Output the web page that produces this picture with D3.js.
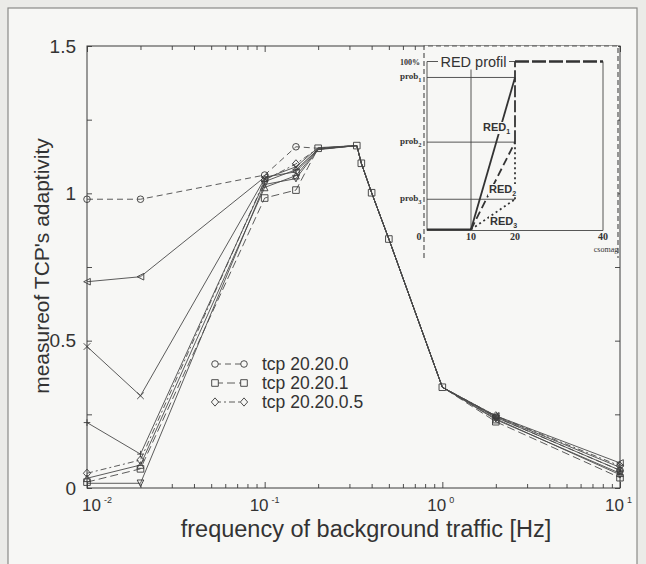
<!DOCTYPE html>
<html>
<head>
<meta charset="utf-8">
<script src="https://cdn.jsdelivr.net/npm/d3@7"></script>
<style>
  html, body { margin: 0; padding: 0; background: #ebebe8; }
  svg { display: block; }
  text { fill: #333; }
</style>
</head>
<body>
<svg id="chart" width="646" height="564"></svg>
<script>
// ---- data -------------------------------------------------------------
const freqs = [0.01, 0.02, 0.1, 0.15, 0.2, 0.33, 0.35, 0.4, 0.5, 1, 2, 10];

const tcp_20_20_0   = [0.980, 0.980, 1.062, 1.158, 1.153, 1.162, 1.102, 1.002, 0.845, 0.342, 0.240, 0.060];
const tcp_20_20_1   = [0.020, 0.065, 0.984, 1.011, 1.153, 1.162, 1.102, 1.002, 0.845, 0.342, 0.225, 0.035];
const tcp_20_20_0_5 = [0.050, 0.095, 1.045, 1.100, 1.153, 1.162, 1.102, 1.002, 0.845, 0.342, 0.245, 0.075];
const run4          = [0.700, 0.717, 1.055, 1.073, 1.150, 1.162, 1.102, 1.002, 0.845, 0.342, 0.245, 0.085];
const run5          = [0.480, 0.313, 1.050, 1.090, 1.155, 1.162, 1.102, 1.002, 0.845, 0.342, 0.243, 0.070];
const run6          = [0.222, 0.115, 1.040, 1.080, 1.150, 1.162, 1.102, 1.002, 0.845, 0.342, 0.240, 0.060];
const run7          = [0.016, 0.016, 1.030, 1.050, 1.148, 1.162, 1.102, 1.002, 0.845, 0.342, 0.235, 0.045];
const run8          = [0.033, 0.078, 1.020, 1.060, 1.150, 1.162, 1.102, 1.002, 0.845, 0.342, 0.232, 0.050];

const legendNames = ["tcp 20.20.0", "tcp 20.20.1", "tcp 20.20.0.5"];

const xTickExponents = [-2, -1, 0, 1];
const yTickValues = [0, 0.25, 0.5, 0.75, 1, 1.25, 1.5];
const yTickLabels = ["0", "0.5", "1", "1.5"];

const xLabel = "frequency of background traffic [Hz]";
const yLabel = "measureof TCP's adaptivity";

// RED drop-probability profile (inset)
const redMinTh = 10, redMaxTh = 20, redQueueMax = 40;
const redMaxProb = [0.905, 0.52, 0.18];
const redNames = ["1", "2", "3"];
const insetXTicks = [0, 10, 20, 40];
const insetTitle = "RED profil";
const insetXLabel = "csomag";

// ---- setup ------------------------------------------------------------
const svg = d3.select("#chart");
const W = 646, H = 564;
const ink = "#3a3a3a";
const FONT = "'Liberation Sans', Arial, sans-serif";
const SERIF = "'Liberation Serif', 'DejaVu Serif', serif";
const paper = "#f7f7f5";

// page: a framed figure on a scanned sheet
svg.append("rect").attr("width", W).attr("height", H).attr("fill", "#ebebe8");
svg.append("rect").attr("x", 8).attr("y", 8).attr("width", 629).attr("height", H)
  .attr("fill", paper).attr("stroke", "#8a8a88").attr("stroke-width", 1.2);

const x = d3.scaleLog().domain([0.01, 10]).range([87, 620]);
const y = d3.scaleLinear().domain([0, 1.5]).range([488, 46]);

// ---- axes box & ticks -------------------------------------------------
const gAxes = svg.append("g");
gAxes.append("rect")
  .attr("x", x.range()[0]).attr("y", y.range()[1])
  .attr("width", x.range()[1] - x.range()[0])
  .attr("height", y.range()[0] - y.range()[1])
  .attr("fill", paper).attr("stroke", ink).attr("stroke-width", 1);

const majorX = xTickExponents.map(e => Math.pow(10, e));
const minorX = x.ticks().filter(v => !majorX.some(m => Math.abs(m - v) < 1e-9));

function styleTicks(g) {
  g.select(".domain").remove();
  g.selectAll("line").attr("stroke", ink).attr("stroke-width", 0.9);
  g.selectAll("text").remove();
}
[[majorX, 6], [minorX, 4]].forEach(([vals, len]) => {
  gAxes.append("g").attr("transform", `translate(0,${y(0)})`)
    .call(d3.axisBottom(x).tickValues(vals).tickSize(-len)).call(styleTicks);
  gAxes.append("g").attr("transform", `translate(0,${y(1.5)})`)
    .call(d3.axisTop(x).tickValues(vals).tickSize(-len)).call(styleTicks);
});
gAxes.append("g").attr("transform", `translate(${x(0.01)},0)`)
  .call(d3.axisLeft(y).tickValues(yTickValues).tickSize(-5)).call(styleTicks);
gAxes.append("g").attr("transform", `translate(${x(10)},0)`)
  .call(d3.axisRight(y).tickValues(yTickValues).tickSize(-5)).call(styleTicks);

// tick labels
yTickLabels.forEach(t => {
  svg.append("text").attr("x", 76).attr("y", y(+t))
    .attr("text-anchor", "end").attr("dominant-baseline", "central")
    .attr("font-family", FONT).attr("font-size", 19).text(t);
});
xTickExponents.forEach((e, i) => {
  const px = x(Math.pow(10, e)) + (i === 0 ? -5 : -15);
  const t = svg.append("text").attr("x", px).attr("y", 511)
    .attr("font-family", FONT).attr("font-size", 17);
  t.append("tspan").text("10");
  t.append("tspan").attr("dx", 3).attr("dy", -8).attr("font-size", 9).text(e);
});

// axis titles
svg.append("text").attr("x", 366).attr("y", 537).attr("text-anchor", "middle")
  .attr("font-family", FONT).attr("font-size", 23.5).text(xLabel);
svg.append("text").attr("transform", "translate(41,266) rotate(-90)")
  .attr("text-anchor", "middle").attr("dominant-baseline", "central")
  .attr("font-family", FONT).attr("font-size", 21).text(yLabel);

// ---- series ------------------------------------------------------------
// drawn bottom to top; tcp 20.20.1 (squares) ends up on top
const series = [
  { v: run8,          m: "^", dash: null },
  { v: run7,          m: "v", dash: null },
  { v: run6,          m: "+", dash: null },
  { v: run5,          m: "x", dash: null },
  { v: run4,          m: "<", dash: null },
  { v: tcp_20_20_0_5, m: "d", dash: "6,3,2,3", legend: 2 },
  { v: tcp_20_20_0,   m: "o", dash: "6,4", legend: 0 },
  { v: tcp_20_20_1,   m: "s", dash: "8,4", legend: 1 }
];
const topSeries = series[series.length - 1];

const lineGen = d3.line().x(d => x(d[0])).y(d => y(d[1]));

function markerPath(type, r) {
  switch (type) {
    case "o": return d3.symbol(d3.symbolCircle, Math.PI * r * r)();
    case "s": return `M${-r},${-r}H${r}V${r}H${-r}Z`;
    case "d": return `M0,${-r * 1.25}L${r * 1.1},0L0,${r * 1.25}L${-r * 1.1},0Z`;
    case "<": return `M${-r},0L${r},${-r}L${r},${r}Z`;
    case "^": return `M0,${-r}L${r},${r}L${-r},${r}Z`;
    case "v": return `M0,${r}L${r},${-r}L${-r},${-r}Z`;
    case "x": return `M${-r},${-r}L${r},${r}M${r},${-r}L${-r},${r}`;
    case "+": return `M${-r},0H${r}M0,${-r}V${r}`;
  }
}

const gSeries = svg.append("g");
series.forEach(s => {
  const pts = freqs.map((f, i) => [f, s.v[i], i]);
  gSeries.append("path").datum(pts).attr("d", lineGen)
    .attr("fill", "none").attr("stroke", "#4a4a4a").attr("stroke-width", 0.9)
    .attr("stroke-dasharray", s.dash);
  // markers sitting exactly under a square of the top series are hidden by it
  const visible = pts.filter(d => s === topSeries ||
    Math.abs(y(d[1]) - y(topSeries.v[d[2]])) > 1.5);
  gSeries.selectAll(null).data(visible).enter().append("path")
    .attr("transform", d => `translate(${x(d[0])},${y(d[1])})`)
    .attr("d", markerPath(s.m, 3.3))
    .attr("fill", "none").attr("stroke", "#3a3a3a").attr("stroke-width", 0.9);
});

// ---- legend ------------------------------------------------------------
const legendRows = [364, 383, 402];
legendNames.forEach((name, i) => {
  const s = series.find(d => d.legend === i), ly = legendRows[i];
  svg.append("line").attr("x1", 215).attr("x2", 244).attr("y1", ly).attr("y2", ly)
    .attr("stroke", "#4a4a4a").attr("stroke-width", 0.9).attr("stroke-dasharray", s.dash);
  [215, 244].forEach(mx => {
    svg.append("path").attr("transform", `translate(${mx},${ly})`)
      .attr("d", markerPath(s.m, 3.3)).attr("fill", paper)
      .attr("stroke", "#3a3a3a").attr("stroke-width", 0.9);
  });
  svg.append("text").attr("x", 262).attr("y", ly).attr("dominant-baseline", "central")
    .attr("font-family", FONT).attr("font-size", 17.5).text(name);
});

// ---- inset: RED profile -----------------------------------------------
const ix = d3.scaleLinear().domain([0, redQueueMax]).range([427, 603]);
const iy = d3.scaleLinear().domain([0, 1]).range([229.5, 61.5]);
const gi = svg.append("g");

gi.append("rect").attr("x", 424).attr("y", 46).attr("width", 194).attr("height", 212)
  .attr("fill", paper);
// dashed frame around the inset
gi.append("path").attr("d", "M424,258V46H618V258")
  .attr("fill", "none").attr("stroke", "#555").attr("stroke-width", 1.2)
  .attr("stroke-dasharray", "5,3");

const thin = { stroke: "#444", "stroke-width": 0.9 };
function seg(x1, y1, x2, y2, attrs) {
  const l = gi.append("line").attr("x1", x1).attr("y1", y1).attr("x2", x2).attr("y2", y2);
  Object.entries(attrs).forEach(([k, v]) => l.attr(k, v));
  return l;
}
// inset axes and guide lines
seg(ix(0), iy(1), ix(0), iy(0) + 1, thin);
seg(ix(0), iy(0) + 1, ix(redQueueMax), iy(0) + 1, thin);
seg(ix(redQueueMax), iy(1), ix(redQueueMax), iy(0) + 1, thin);
seg(ix(redMinTh), iy(1), ix(redMinTh), iy(0), thin);
redMaxProb.forEach(p => seg(ix(0), iy(p), ix(redMaxTh), iy(p), thin));
seg(ix(0), iy(1), ix(redMaxTh), iy(1), thin);
gi.append("rect").attr("x", 438).attr("y", iy(1) - 8).attr("width", 71).attr("height", 16)
  .attr("fill", paper);
gi.append("text").attr("x", 473.5).attr("y", iy(1)).attr("text-anchor", "middle")
  .attr("dominant-baseline", "central").attr("font-family", FONT)
  .attr("font-size", 14.5).text(insetTitle);

// drop-probability curves: shared floor, individual ramps, jump to 100%
const heavy = { stroke: "#333", "stroke-width": 1.8, fill: "none" };
const redDash = [null, "8,4", "2,3"];
seg(ix(0), iy(0), ix(redMinTh), iy(0), heavy);
redMaxProb.forEach((p, k) => {
  seg(ix(redMinTh), iy(0), ix(redMaxTh), iy(p), heavy).attr("stroke-dasharray", redDash[k]);
});
seg(ix(redMaxTh), iy(redMaxProb[1]), ix(redMaxTh), iy(1), heavy).attr("stroke-dasharray", "12,3");
seg(ix(redMaxTh), iy(redMaxProb[2]), ix(redMaxTh), iy(redMaxProb[1]), heavy)
  .attr("stroke-dasharray", "2,3");
seg(ix(redMaxTh), iy(1), ix(redQueueMax), iy(1), heavy).attr("stroke-dasharray", "14,3")
  .attr("stroke-width", 2.4);

// inset labels
redMaxProb.forEach((p, k) => {
  const t = gi.append("text").attr("x", 400).attr("y", iy(p) + 2)
    .attr("font-family", SERIF).attr("font-weight", "bold").attr("font-size", 9);
  t.append("tspan").text("prob");
  t.append("tspan").attr("dy", 3).attr("font-size", 6.5).text(redNames[k]);
});
gi.append("text").attr("x", 400).attr("y", iy(1) + 3)
  .attr("font-family", SERIF).attr("font-weight", "bold").attr("font-size", 8).text("100%");

const redLabelPos = [[483, 131], [489, 193], [490, 225]];
redLabelPos.forEach(([lx, ly], k) => {
  gi.append("rect").attr("x", lx - 1).attr("y", ly - 9).attr("width", 28).attr("height", 12)
    .attr("fill", paper);
  const t = gi.append("text").attr("x", lx).attr("y", ly)
    .attr("font-family", FONT).attr("font-weight", "bold").attr("font-size", 11);
  t.append("tspan").text("RED");
  t.append("tspan").attr("dy", 3).attr("font-size", 7).text(redNames[k]);
});

insetXTicks.forEach(v => {
  gi.append("text").attr("x", ix(v) - (v === 0 ? 8 : 0)).attr("y", 240)
    .attr("text-anchor", "middle").attr("font-family", SERIF).attr("font-weight", "bold")
    .attr("font-size", 10).text(v);
});
gi.append("text").attr("x", 606).attr("y", 252).attr("text-anchor", "middle")
  .attr("font-family", SERIF).attr("font-size", 8).text(insetXLabel);
</script>
</body>
</html>
